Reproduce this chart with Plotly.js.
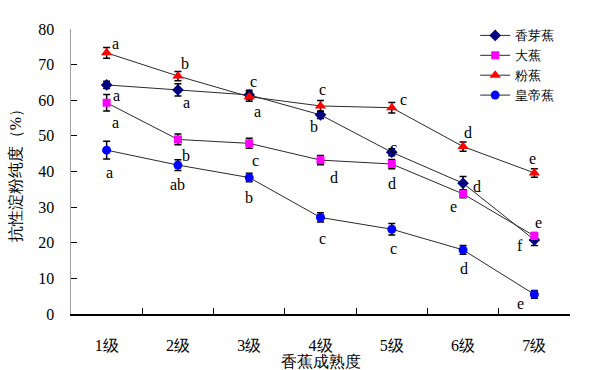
<!DOCTYPE html>
<html>
<head>
<meta charset="utf-8">
<script src="https://cdn.plot.ly/plotly-3.0.1.min.js"></script>
<style>body{margin:0;background:#fff}#chart{width:600px;height:370px}</style>
</head>
<body>
<div id="chart"></div>
<script>
// ---- data ----
const grades = ['1级','2级','3级','4级','5级','6级','7级'];
const seriesNames = ['香芽蕉','大蕉','粉蕉','皇帝蕉'];

const xiangya = [64.3, 62.9, 61.5, 55.9, 45.4, 36.7, 20.8];
const xiangyaErr = [1.0, 1.7, 1.3, 1.0, 1.0, 1.9, 1.6];
const xiangyaSig = ['a','a','a','b','c','d','f'];

const dajiao = [59.3, 49.0, 47.9, 43.2, 42.1, 33.7, 21.9];
const dajiaoErr = [2.3, 1.5, 1.4, 1.3, 1.3, 1.1, 1.0];
const dajiaoSig = ['a','b','c','d','d','e','e'];

const fenjiao = [73.3, 66.8, 61.0, 58.4, 57.9, 47.0, 39.6];
const fenjiaoErr = [1.5, 1.3, 1.3, 1.5, 1.5, 1.3, 1.2];
const fenjiaoSig = ['a','b','c','c','c','d','e'];

const huangdi = [46.0, 41.8, 38.3, 27.1, 23.8, 18.0, 5.5];
const huangdiErr = [2.5, 1.5, 1.2, 1.3, 1.6, 1.2, 1.1];
const huangdiSig = ['a','ab','b','c','c','d','e'];

const yTicks = [0,10,20,30,40,50,60,70,80];

// ---- label placement (pixel offsets from each point) ----
const xiangyaShift = [[10,-11],[9,-13],[8,-17],[-7,-12],[2,5],[14,-3],[-14,-6]];
const dajiaoShift  = [[9,-20],[8,-16],[6,-17],[13,-17],[0,-19],[-10,-13],[4,13]];
const fenjiaoShift = [[9,9],[7,13],[4,15],[2,16],[12,8],[5,14],[-2,14]];
const huangdiShift = [[3,-22],[0,-19],[0,-20],[2,-21],[2,-19],[1,-19],[-14,-9]];

const serif = 'Liberation Serif';
const lineCol = '#2a2a2a';

function trace(name, y, err, color, symbol, size) {
  return {
    type: 'scatter', mode: 'lines+markers', name: name,
    x: grades, y: y,
    line: {color: lineCol, width: 1},
    marker: {color: color, symbol: symbol, size: size, line: {width: 0}},
    error_y: {type: 'data', array: err, visible: true, color: '#000', thickness: 1.5, width: 3.5}
  };
}

const data = [
  trace(seriesNames[0], xiangya, xiangyaErr, '#000080', 'diamond', 9),
  trace(seriesNames[1], dajiao, dajiaoErr, '#ff00ff', 'square', 8),
  trace(seriesNames[2], fenjiao, fenjiaoErr, '#ff0000', 'triangle-up', 10),
  trace(seriesNames[3], huangdi, huangdiErr, '#0000ff', 'circle', 9)
];

const annotations = [];
function addSig(vals, sig, shift) {
  for (let i = 0; i < grades.length; i++) {
    annotations.push({
      x: grades[i], y: vals[i], xref: 'x', yref: 'y',
      text: sig[i], showarrow: false,
      xshift: shift[i][0], yshift: shift[i][1],
      font: {family: serif, size: 16, color: '#000'}
    });
  }
}
addSig(xiangya, xiangyaSig, xiangyaShift);
addSig(dajiao, dajiaoSig, dajiaoShift);
addSig(fenjiao, fenjiaoSig, fenjiaoShift);
addSig(huangdi, huangdiSig, huangdiShift);

const layout = {
  width: 600, height: 370,
  margin: {l: 71, r: 30, t: 29, b: 56},
  paper_bgcolor: '#fff', plot_bgcolor: '#fff',
  font: {family: serif, color: '#000', size: 15},
  showlegend: true,
  legend: {
    x: 0.81, y: 1.03, xanchor: 'left', yanchor: 'top',
    font: {family: serif, size: 13, color: '#000'},
    bgcolor: 'rgba(0,0,0,0)', tracegroupgap: 0, itemwidth: 30
  },
  xaxis: {
    type: 'category', tickson: 'boundaries',
    range: [-0.5, 6.5],
    showgrid: false, zeroline: false,
    showline: true, linecolor: '#000', linewidth: 1.5,
    ticks: 'inside', ticklen: 6, tickcolor: '#000', tickwidth: 1,
    ticklabelstandoff: 16,
    tickfont: {family: serif, size: 16},
    title: {text: '香蕉成熟度', font: {family: serif, size: 16}, standoff: 0}
  },
  yaxis: {
    range: [0, 80], tickvals: yTicks, ticktext: yTicks.map(String),
    showgrid: false, zeroline: false,
    showline: true, linecolor: '#a0a0a0', linewidth: 1.5,
    ticks: 'inside', ticklen: 6, tickcolor: '#000', tickwidth: 1,
    ticklabelstandoff: 12,
    tickfont: {family: serif, size: 16},
    title: {text: '抗性淀粉纯度（%）', font: {family: serif, size: 16}, standoff: 12}
  },
  annotations: annotations
};

Plotly.newPlot('chart', data, layout, {displayModeBar: false, staticPlot: true});
</script>
</body>
</html>
